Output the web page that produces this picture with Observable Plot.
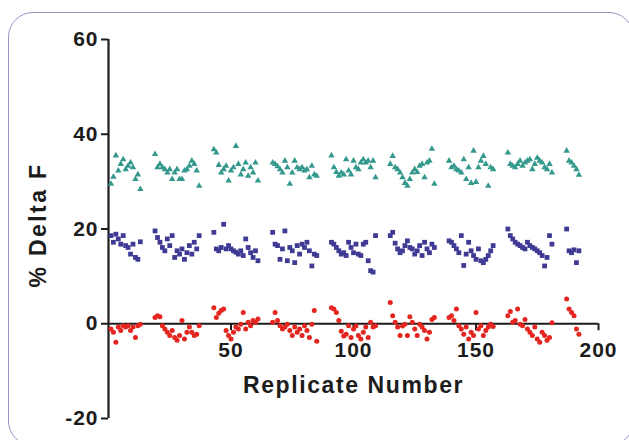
<!DOCTYPE html>
<html>
<head>
<meta charset="utf-8">
<script src="https://cdn.jsdelivr.net/npm/d3@7"></script>
<script src="https://cdn.jsdelivr.net/npm/@observablehq/plot@0.6"></script>
<style>
  html, body { margin: 0; padding: 0; background: #fff; }
  #wrap { position: relative; width: 629px; height: 440px; overflow: hidden; background: #fff; }
  #frame { position: absolute; left: 8px; top: 12px; width: 626px; height: 434px;
           border: 1.6px solid #a28cc6; border-radius: 25px; box-sizing: border-box; }
  #chart { position: absolute; left: 0; top: 0; }
  .ticklab text { letter-spacing: 1px; }
  .xlab text { letter-spacing: 1.6px; }
  .ylab text { letter-spacing: 2.4px; }
</style>
</head>
<body>
<div id="wrap"><div id="frame"></div><div id="chart"></div></div>
<script>
// Replicate numbers: each run of values starts at these replicate numbers
const groupStart = [1, 19, 43, 67, 91, 115, 139, 163, 187];

// Triangles (teal)
const tealValues = [
  [29.5, 31, 35.5, 32.3, 33.7, 34.7, 32.6, 33.3, 34, 33, 30.5, 31.5, 28.4],
  [35.8, 33, 33.7, 33, 32.6, 31.9, 32.6, 30.5, 31.9, 32.6, 30.5, 30.5, 32.3, 32.6, 33.3, 34.4, 33.7, 32.3, 29.1],
  [36.8, 36.1, 33.5, 31.9, 32.6, 33.3, 30.2, 32.3, 33, 37.5, 33.7, 31.5, 32.6, 34, 31.2, 33, 31.9, 34, 30.2],
  [34, 33.7, 33.2, 32.6, 31.9, 34.4, 33, 29.5, 31.9, 34.4, 33, 32.6, 33, 32.3, 32.6, 30.9, 33.3, 31.5, 31.2],
  [35.5, 33, 32, 31.2, 31.9, 31.5, 34.7, 32.3, 31.5, 34.4, 33, 32.6, 34, 34.7, 34, 34.4, 33, 34.4, 30.9],
  [33.7, 35.4, 33, 32.6, 31.9, 30.9, 29.7, 29.1, 30.5, 31.9, 32.6, 32, 33.3, 33.7, 30.9, 34, 34.4, 36.9, 29.5],
  [34.4, 33, 33.3, 32.6, 32.3, 31.9, 34.7, 30.5, 33, 29.7, 36.5, 29.9, 33, 34.4, 35.4, 33.7, 29.1, 33, 32.6],
  [36.1, 33.7, 33.3, 33, 33.7, 34.4, 33.3, 34, 34.4, 34.7, 32.6, 33.7, 35, 34.4, 34, 33, 32.6, 33.7, 31.9],
  [36.5, 34.4, 34, 33.3, 32.6, 31.4]
];

// Squares (navy)
const navyValues = [
  [18.6, 17.2, 18.9, 17.9, 16.8, 18.6, 16.5, 16.1, 14.7, 16.8, 14, 13.6, 17.3],
  [19.6, 18.2, 17.2, 16.1, 15.4, 17.9, 16.5, 18.6, 14, 15.4, 14.7, 15.8, 13.6, 15, 16.5, 14.7, 17.2, 15.8, 18.6],
  [19.3, 15.8, 15.4, 16.1, 21, 15.8, 16.5, 15.8, 15.4, 15.1, 14.7, 15.4, 14.4, 17.9, 16.1, 15, 14, 15.4, 13.3],
  [19.3, 16.8, 16.5, 13.6, 15.8, 19.6, 13.3, 16.1, 15.4, 12.9, 16.5, 14.7, 16.8, 16.1, 17.2, 15.4, 12.2, 14.7, 14.4],
  [17.2, 16.8, 16.1, 15.4, 14.7, 15, 14.4, 17.2, 16.1, 15, 16.8, 14.7, 14.4, 16.8, 17.2, 13.3, 11.2, 10.9, 18.6],
  [18.6, 19.3, 17, 15.8, 15, 15.4, 16.5, 17.5, 16.1, 15.8, 14.7, 15.4, 16.5, 14.4, 17.2, 15.8, 15, 16.8, 16.1],
  [17.5, 17.2, 16.5, 15.8, 15, 18.6, 12.3, 14.7, 17.2, 15.4, 14.4, 13.6, 15.8, 13.3, 12.9, 13.6, 14.4, 15.4, 16.5],
  [20, 18.6, 17.9, 17.2, 16.8, 16.5, 16.1, 15.8, 17.2, 16.5, 16.1, 15.8, 15.4, 15, 14.4, 12.2, 14, 18.6, 16.8],
  [20, 15.4, 15, 15.6, 12.9, 15.4]
];

// Circles (red)
const redValues = [
  [-1.1, -1.8, -3.9, -0.7, -1.4, -0.4, -0.7, -0.4, -1.4, -0.7, -2.9, -0.4, -0.1],
  [1.3, 1.7, 1.5, -0.4, -1.1, -1.8, -2.5, -1.4, -2.9, -3.5, -2.5, 0.7, -3.2, -1.8, -0.7, -1.8, -2.5, -2.2, -0.4],
  [3.4, 1.3, 2.2, 2.8, 3.1, -1.4, -2.5, -3.2, -1.8, -0.7, -1.1, -0.1, 2.4, -1.1, 0.3, -0.4, 0.7, 0.3, 1],
  [0.3, 2.4, 0.7, -0.4, -1.1, -0.7, -0.1, -1.4, -2.5, -0.7, -1.8, -1.1, -2.5, -0.4, -1.4, -2.9, -0.1, 2.8, -3.7],
  [3.4, 3.1, 2.4, 0.7, -1.6, -2.6, -2.2, -0.4, -2.9, -1.1, -0.5, -2.5, -3.2, -1.8, -0.7, -2.9, 0.3, -0.7, -0.4],
  [4.5, 1.7, 0.3, -0.7, -2.5, -0.5, -0.1, -2.5, 1.5, 0.3, -1.1, -2.5, -0.1, -0.7, -1.4, -3.2, -1.8, 0.9, 1.3],
  [1.3, 1.7, 0.7, 3.1, -0.4, -1.1, -2.2, -0.7, -3.2, -1.8, -2.5, 2.4, -1.1, -0.4, -2.5, -1.4, -0.7, -0.1, -0.6],
  [1.7, 2.6, 0.3, 0.7, 3.1, -0.1, -0.4, 0.9, -1.1, -1.8, -2.5, -0.7, -3.2, -3.9, -1.8, -2.5, -3.5, -2.9, 0.2],
  [5.2, 3.1, 2.4, 1.7, -1.1, -2.2]
];

const xTicks = [50, 100, 150, 200];
const yTicks = [-20, 0, 20, 40, 60];
const xLabel = "Replicate Number";
const yLabel = "% Delta F";

function toRows(groups) {
  const rows = [];
  groups.forEach((vals, g) => vals.forEach((v, i) => rows.push({replicate: groupStart[g] + i, value: v})));
  return rows;
}
const teal = toRows(tealValues);
const navy = toRows(navyValues);
const red = toRows(redValues);

const font = "'Liberation Sans', Arial, Helvetica, sans-serif";
const ink = "#1c1c1c";

const plot = Plot.plot({
  width: 629,
  height: 440,
  marginLeft: 108,
  marginRight: 31,
  marginTop: 39,
  marginBottom: 22,
  style: {fontFamily: font, fontWeight: "bold", fontSize: "21px", color: ink, background: "transparent", overflow: "visible"},
  x: {domain: [0, 200], axis: null},
  y: {domain: [-20, 60], axis: null},
  marks: [
    Plot.axisY({ticks: yTicks, tickFormat: d => String(d), tickSize: 7, tickPadding: 3, strokeWidth: 2, label: null,
                fontSize: 21, fontWeight: "bold", fill: ink, stroke: ink, className: "ticklab"}),
    Plot.ruleX([0], {y1: -20, y2: 60, strokeWidth: 2.2, stroke: ink}),
    Plot.ruleY([0], {x1: 0, x2: 200, strokeWidth: 2.2, stroke: ink}),
    Plot.ruleX(xTicks, {x: d => d, y1: 0, y2: 0, insetBottom: -7, strokeWidth: 2, stroke: ink}),
    Plot.text(xTicks, {x: d => d, y: 0, text: d => String(d), dy: 27, lineAnchor: "middle", textAnchor: "middle",
                       fontSize: 21, fontWeight: "bold", fill: ink, className: "ticklab"}),
    Plot.text([xLabel], {frameAnchor: "bottom", text: d => d, dy: -33, lineAnchor: "middle", textAnchor: "middle",
                         fontSize: 23, fontWeight: "bold", fill: ink, className: "xlab"}),
    Plot.text([yLabel], {frameAnchor: "left", text: d => d, dx: -70, dy: -4, rotate: -90, lineAnchor: "middle", textAnchor: "middle",
                         fontSize: 23, fontWeight: "bold", fill: ink, className: "ylab"}),
    Plot.dot(teal, {x: "replicate", y: "value", symbol: "triangle", r: 2.4, fill: "#34998d", stroke: "none"}),
    Plot.dot(navy, {x: "replicate", y: "value", symbol: "square", r: 2.7, fill: "#3f3b94", stroke: "none"}),
    Plot.dot(red, {x: "replicate", y: "value", symbol: "circle", r: 2.5, fill: "#e5251f", stroke: "none"})
  ]
});
document.getElementById("chart").appendChild(plot);
</script>
</body>
</html>
